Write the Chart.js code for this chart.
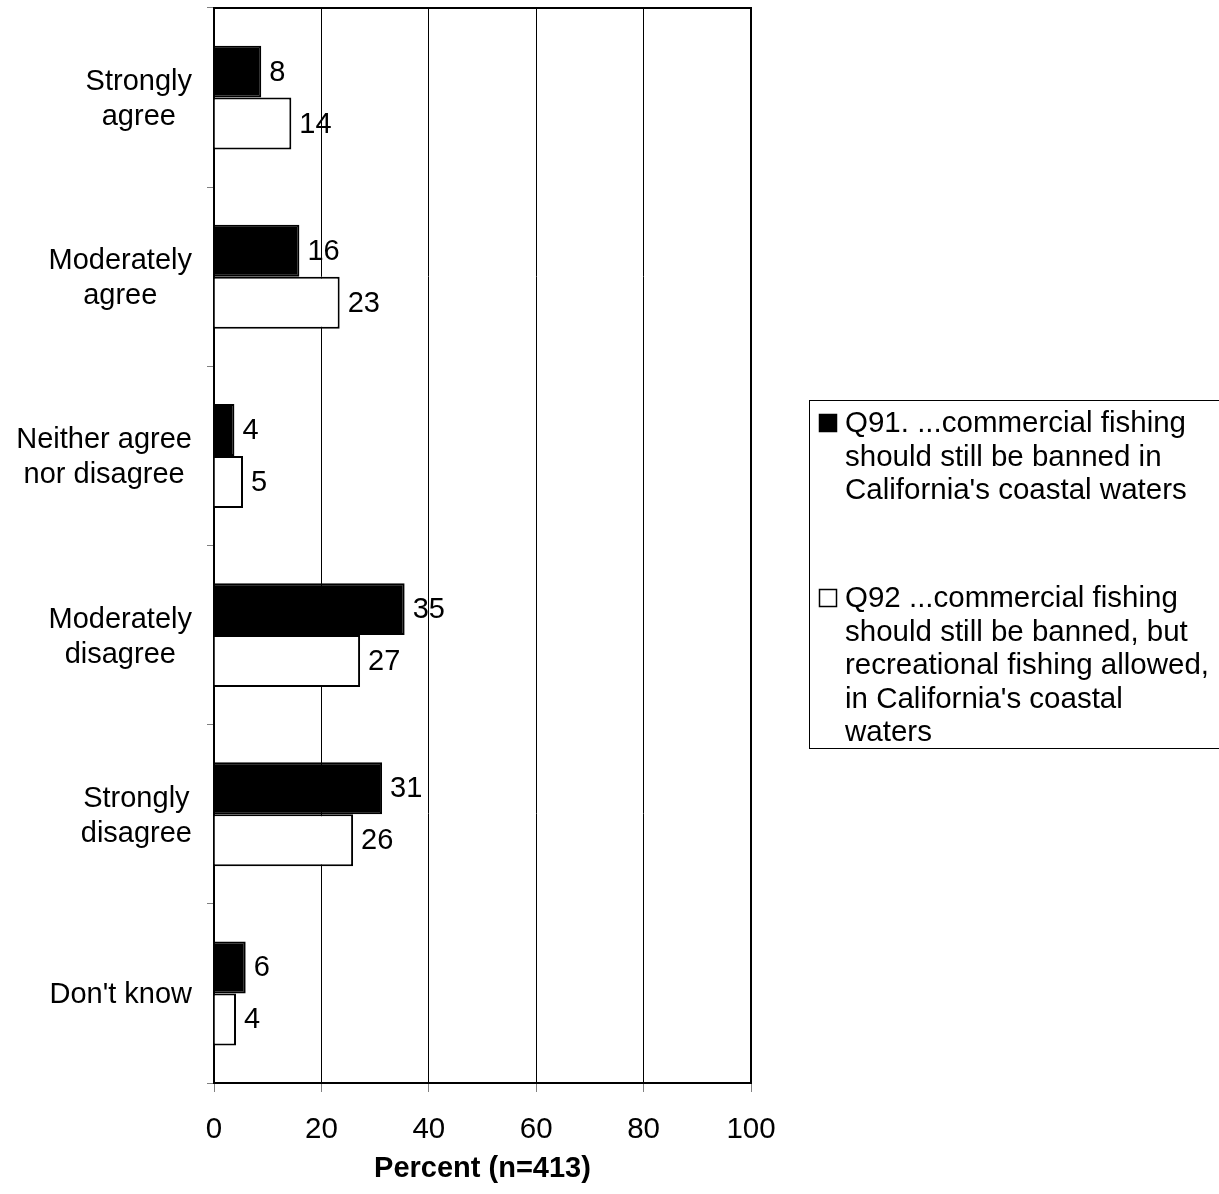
<!DOCTYPE html>
<html>
<head>
<meta charset="utf-8">
<script src="https://cdn.jsdelivr.net/npm/chart.js@4/dist/chart.umd.min.js"></script>
<style>
  html, body { margin: 0; padding: 0; background: #fff; }
  #wrap { width: 1219px; height: 1194px; }
</style>
</head>
<body>
<div id="wrap"><canvas id="myChart"></canvas></div>
<script>
'use strict';
let categories = [
  ['Strongly', 'agree'],
  ['Moderately', 'agree'],
  ['Neither agree', 'nor disagree'],
  ['Moderately', 'disagree'],
  ['Strongly', 'disagree'],
  ["Don't know"],
];
let q91Values = [8.8, 15.9, 3.8, 35.5, 31.3, 5.9];
let q92Values = [14.4, 23.4, 5.4, 27.2, 25.9, 4.1];
let q91Labels = [8, 16, 4, 35, 31, 6];
let q92Labels = [14, 23, 5, 27, 26, 4];
let xTicks = [0, 20, 40, 60, 80, 100];
let q91Legend = ['Q91. ...commercial fishing', 'should still be banned in', "California's coastal waters"];
let q92Legend = ['Q92 ...commercial fishing', 'should still be banned, but', 'recreational fishing allowed,', "in California's coastal", 'waters'];

const FONT = '"Liberation Sans", Arial, sans-serif';
Chart.defaults.font.family = FONT;
Chart.defaults.color = '#000';

// top + right sides of the plot box
const framePlugin = {
  id: 'frame',
  afterDatasetsDraw(chart) {
    const a = chart.chartArea;
    const ctx = chart.ctx;
    ctx.save();
    ctx.strokeStyle = '#000';
    ctx.lineWidth = 2;
    ctx.beginPath();
    ctx.moveTo(a.left, a.top);
    ctx.lineTo(a.right, a.top);
    ctx.lineTo(a.right, a.bottom);
    ctx.stroke();
    ctx.restore();
  }
};

// numbers at the end of each bar
const valuePlugin = {
  id: 'values',
  afterDatasetsDraw(chart) {
    const ctx = chart.ctx;
    ctx.save();
    ctx.font = '29px ' + FONT;
    ctx.fillStyle = '#000';
    ctx.textAlign = 'left';
    ctx.textBaseline = 'middle';
    chart.data.datasets.forEach((ds, i) => {
      chart.getDatasetMeta(i).data.forEach((bar, j) => {
        ctx.fillText(String(ds.shownLabels[j]), bar.x + 8, bar.y + 1);
      });
    });
    ctx.restore();
  }
};

// category labels, each line centred inside its own block
const catPlugin = {
  id: 'cats',
  afterDraw(chart) {
    const ctx = chart.ctx;
    const y = chart.scales.y;
    const lh = 35;
    ctx.save();
    ctx.font = '29px ' + FONT;
    ctx.fillStyle = '#000';
    ctx.textAlign = 'center';
    ctx.textBaseline = 'middle';
    for (let i = 0; i < categories.length; i++) {
      let lines = categories[i];
      let w = Math.max(...lines.map(t => ctx.measureText(t).width));
      let cx = 192 - w / 2;
      let cy = y.getPixelForValue(i);
      let y0 = cy - (lines.length - 1) * lh / 2;
      lines.forEach((t, k) => ctx.fillText(t, cx, y0 + k * lh + 2));
    }
    ctx.restore();
  }
};

// boxed legend on the right
const legendPlugin = {
  id: 'boxLegend',
  afterDraw(chart) {
    const ctx = chart.ctx;
    ctx.save();
    ctx.strokeStyle = '#000';
    ctx.lineWidth = 1;
    ctx.strokeRect(809.5, 400.5, 420, 348);
    ctx.font = '29.5px ' + FONT;
    ctx.fillStyle = '#000';
    ctx.textAlign = 'left';
    ctx.textBaseline = 'middle';
    const items = [[q91Legend, 423, 0], [q92Legend, 598, 1]];
    items.forEach(([lines, top, idx]) => {
      const ds = chart.data.datasets[idx];
      ctx.fillStyle = ds.backgroundColor;
      ctx.fillRect(819, top - 9, 18, 18);
      ctx.strokeStyle = '#000';
      ctx.lineWidth = 1.5;
      ctx.strokeRect(819.5, top - 8.5, 17, 17);
      ctx.fillStyle = '#000';
      lines.forEach((t, k) => ctx.fillText(t, 845, top + k * 33.5 + 1));
    });
    ctx.restore();
  }
};

const ctx = document.getElementById('myChart').getContext('2d');
const myChart = new Chart(ctx, {
  type: 'bar',
  data: {
    labels: categories,
    datasets: [{
      label: q91Legend.join(' '),
      data: q91Values,
      shownLabels: q91Labels,
      backgroundColor: '#000',
      borderColor: '#000',
      borderWidth: 2,
      borderSkipped: 'start',
    }, {
      label: q92Legend.join(' '),
      data: q92Values,
      shownLabels: q92Labels,
      backgroundColor: '#fff',
      borderColor: '#000',
      borderWidth: 2,
      borderSkipped: 'start',
    }]
  },
  options: {
    indexAxis: 'y',
    responsive: true,
    maintainAspectRatio: false,
    animation: false,
    layout: { padding: { top: 8, right: 468, left: 0, bottom: 0 } },
    datasets: { bar: { categoryPercentage: 0.58, barPercentage: 1 } },
    plugins: {
      legend: { display: false },
      tooltip: { enabled: false },
    },
    scales: {
      x: {
        min: 0,
        max: 100,
        afterBuildTicks: s => { s.ticks = xTicks.map(v => ({ value: v })); },
        afterFit: s => { s.height = 111; },
        ticks: { font: { size: 29.5 }, color: '#000', padding: 20 },
        grid: { color: '#000', lineWidth: 1, tickLength: 9, tickColor: '#808080' },
        border: { color: '#000', width: 2 },
        title: {
          display: true,
          text: 'Percent (n=413)',
          font: { size: 29, weight: 'bold', lineHeight: 1.2 },
          color: '#000',
          padding: { top: 0, bottom: 8 },
        },
      },
      y: {
        afterFit: s => { s.width = 214; },
        ticks: { display: false },
        grid: { offset: true, drawOnChartArea: false, tickLength: 7, tickColor: '#808080' },
        border: { color: '#000', width: 2 },
      }
    }
  },
  plugins: [framePlugin, valuePlugin, catPlugin, legendPlugin]
});
</script>
</body>
</html>
